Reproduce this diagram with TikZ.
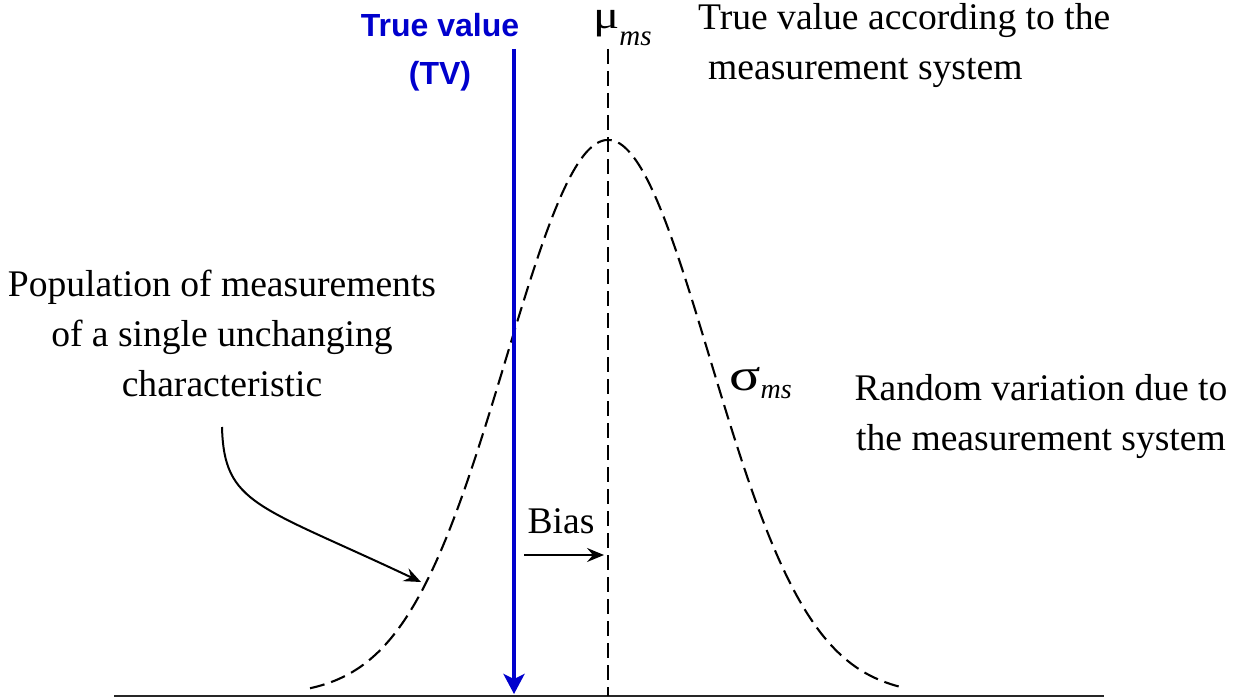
\documentclass[tikz,border=0pt]{standalone}
\usepackage{fontspec}
\setmainfont{Liberation Serif}
\setsansfont{Liberation Sans}
\usetikzlibrary{arrows.meta}
\definecolor{tvblue}{RGB}{0,0,205}
\tikzset{
  txt/.style={inner sep=0pt, font=\fontsize{37.6}{50}\selectfont},
  tvtxt/.style={inner sep=0pt, text=tvblue, font=\sffamily\bfseries\fontsize{32}{48}\selectfont, align=center},
  dashline/.style={line width=2.1pt, dash pattern=on 15pt off 7pt},
  baseln/.style={line width=2.4pt, draw=black!85},
  blueln/.style={line width=3.6pt, draw=tvblue, -{Stealth[length=20pt,width=21pt,inset=5pt]}},
  thinarrow/.style={line width=2pt, -{Stealth[length=17pt,width=14pt,inset=6pt]}},
}
\begin{document}
\begin{tikzpicture}[x=1pt,y=-1pt]
\useasboundingbox (0,0) rectangle (1246,698);
% coordinates
\coordinate (axL) at (114,696);
\coordinate (axR) at (1104,696);
\coordinate (tvtop) at (514,49);
\coordinate (tvbot) at (514,694);
\coordinate (mstop) at (608,49);
\coordinate (msbot) at (608,696);
\coordinate (biasL) at (524,555);
\coordinate (biasR) at (604,555);
\coordinate (popS) at (222,427);
\coordinate (popE) at (421,582);
% axis
\draw[baseln] (axL) -- (axR);
% gaussian
\draw[dashline] plot[domain=310:903, samples=200, smooth] (\x, {696-556*exp(-0.5*((\x-608)/102)^2)});
% vertical lines
\draw[dashline] (mstop) -- (msbot);
\draw[blueln] (tvtop) -- (tvbot);
% labels
\node[tvtxt] (tv) at (440,52) {True value\\(TV)};
\node[txt, anchor=base west] (mu) at (593,29) {\scalebox{1.3}[1.05]{μ}\raisebox{-17pt}{\fontsize{29}{29}\selectfont\itshape ms}};
\node[txt, anchor=base west, align=left] (tvms) at (698,80) {True value according to the\\\hspace*{10pt}measurement system};
\node[txt, align=center] (pop) at (222,333) {Population of measurements\\of a single unchanging\\characteristic};
\node[txt, anchor=base west] (sig) at (729,390) {\scalebox{1.55}[1.2]{σ}\raisebox{-8pt}{\fontsize{28}{28}\selectfont\itshape ms}};
\node[txt, align=center] (rand) at (1041,417) {Random variation due to\\the measurement system};
\node[txt, anchor=base] (bias) at (561,533) {Bias};
% arrows
\draw[thinarrow] (biasL) -- (biasR);
\draw[thinarrow] (popS) .. controls (224,505) and (258,505) .. (popE);
\end{tikzpicture}
\end{document}
